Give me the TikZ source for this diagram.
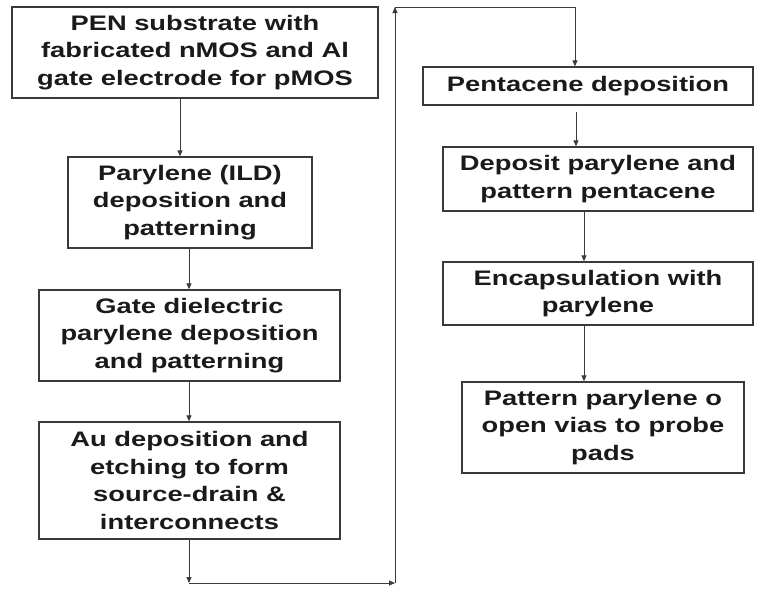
\documentclass[tikz,border=0pt]{standalone}
\usepackage{fontspec}
\setmainfont[FakeStretch=1.3]{Liberation Sans}
\usepackage{tikz}
\usetikzlibrary{arrows.meta, calc, positioning}
\usepackage{xcolor}
\definecolor{linegray}{HTML}{3A3A3A}
\definecolor{textgray}{HTML}{1A1A1A}

\tikzset{
    stepbox/.style={draw=linegray, line width=1.3pt, align=center, inner sep=0pt,
        font=\bfseries\fontsize{21}{27.5}\selectfont, text=textgray},
    flow/.style={draw=linegray, line width=0.9pt, -{Triangle[length=6pt, width=5pt]}}
}

\begin{document}
\begin{tikzpicture}[x=1pt, y=1pt]
    \useasboundingbox (0,0) rectangle (758,-598);

    % 左列：前段工艺
    \node[stepbox, minimum width=366pt, minimum height=91pt] (sub) at (195,-52.5)
        {PEN substrate with\\fabricated nMOS and Al\\gate electrode for pMOS};
    \node[stepbox, minimum width=244pt, minimum height=91pt] (ild) at (190,-202.5)
        {Parylene (ILD)\\deposition and\\patterning};
    \node[stepbox, minimum width=301pt, minimum height=91pt] (gate) at (189.5,-335.5)
        {Gate dielectric\\parylene deposition\\and patterning};
    \node[stepbox, minimum width=301pt, minimum height=117pt] (au) at (189.5,-480.5)
        {Au deposition and\\etching to form\\source-drain \&\\interconnects};

    % 右列：并五苯及封装
    \node[stepbox, minimum width=330pt, minimum height=38pt] (pent) at (588,-86)
        {Pentacene deposition};
    \node[stepbox, minimum width=310pt, minimum height=64pt] (dep) at (598,-179)
        {Deposit parylene and\\pattern pentacene};
    \node[stepbox, minimum width=310pt, minimum height=63pt] (enc) at (598,-293.5)
        {Encapsulation with\\parylene};
    \node[stepbox, minimum width=282pt, minimum height=91pt] (via) at (603,-427.5)
        {Pattern parylene o\\open vias to probe\\pads};

    % 连线所用的列位置与回路拐点
    \coordinate (lx1) at (180,0);
    \coordinate (lx) at (189,0);
    \coordinate (rx1) at (576,0);
    \coordinate (rx) at (584,0);
    \coordinate (c1) at (189,-583);
    \coordinate (c2) at (395,-583);
    \coordinate (c3) at (395,-7);
    \coordinate (c4) at (575,-7);

    % 左列箭头
    \draw[flow] (sub.south -| lx1) -- (ild.north -| lx1);
    \draw[flow] (ild.south -| lx) -- (gate.north -| lx);
    \draw[flow] (gate.south -| lx) -- (au.north -| lx);
    \draw[flow] (au.south -| lx) -- (c1);

    % 回路：底部向右，上行，再转入右列
    \draw[flow] (c1) -- (c2);
    \draw[flow] (c2) -- (c3);
    \draw[flow] (c3) -- (c4) -- (pent.north -| c4);

    % 右列箭头
    \draw[flow, shorten <=6pt] (pent.south -| rx1) -- (dep.north -| rx1);
    \draw[flow] (dep.south -| rx) -- (enc.north -| rx);
    \draw[flow] (enc.south -| rx) -- (via.north -| rx);
\end{tikzpicture}
\end{document}
